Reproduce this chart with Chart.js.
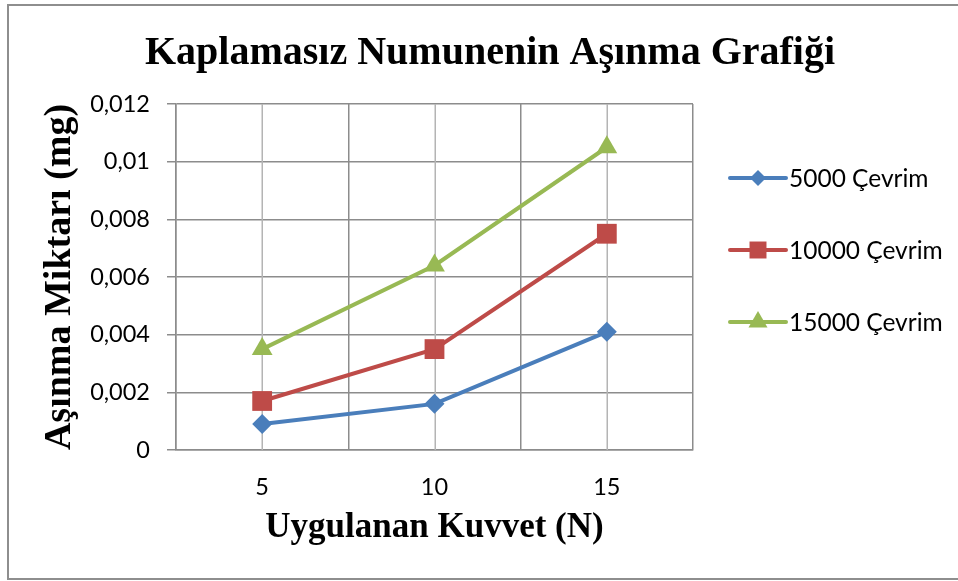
<!DOCTYPE html>
<html>
<head>
<meta charset="utf-8">
<title>Kaplamasız Numunenin Aşınma Grafiği</title>
<script src="https://cdn.jsdelivr.net/npm/chart.js@4.4.1/dist/chart.umd.min.js"></script>
<style>
  html, body { margin: 0; padding: 0; background: #fff; }
  canvas { display: block; }
</style>
</head>
<body>
<canvas id="chart" width="958" height="581"></canvas>
<script>
// ==================== DATA ====================
const categories = ['5', '10', '15'];
const seriesNames = ['5000 Çevrim', '10000 Çevrim', '15000 Çevrim'];
const cevrim5000 = [0.0009, 0.0016, 0.0041];
const cevrim10000 = [0.0017, 0.0035, 0.0075];
const cevrim15000 = [0.0035, 0.0064, 0.0105];
const yTicks = [0, 0.002, 0.004, 0.006, 0.008, 0.01, 0.012];

// ==================== STYLE ====================
const colors = ['#4A7EBB', '#BE4B48', '#98B954'];
const markers = ['rectRot', 'rect', 'triangle'];
const markerSize = [10, 14, 12];
const legendMarkerSize = [8, 12, 11];
const gridColor = '#8c8c8c';
const tickFont = { family: 'Lato', size: 23.5 };
const serifBold = size => ({ family: '"Liberation Serif", "Times New Roman", serif', size: size, weight: 'bold' });

const fmt = v => String(+Number(v).toFixed(4)).replace('.', ',');

// outer frame like the Excel chart border
const framePlugin = {
  id: 'frame',
  beforeDraw(chart) {
    const ctx = chart.ctx;
    ctx.save();
    ctx.fillStyle = '#fff';
    ctx.fillRect(0, 0, chart.width, chart.height);
    ctx.strokeStyle = '#8e8e8e';
    ctx.lineWidth = 2;
    ctx.beginPath();
    ctx.moveTo(chart.width, 5);
    ctx.lineTo(8, 5);
    ctx.lineTo(8, 579);
    ctx.lineTo(chart.width, 579);
    ctx.stroke();
    ctx.restore();
  }
};

// light gridlines through the category centres
const centerLines = {
  id: 'centerLines',
  beforeDatasetsDraw(chart) {
    const { ctx, chartArea, scales } = chart;
    ctx.save();
    ctx.strokeStyle = '#b4b4b4';
    ctx.lineWidth = 1.5;
    categories.forEach((c, i) => {
      const px = Math.round(scales.x.getPixelForValue(i)) + 0.25;
      ctx.beginPath();
      ctx.moveTo(px, chartArea.top);
      ctx.lineTo(px, chartArea.bottom);
      ctx.stroke();
    });
    ctx.restore();
  }
};

// legend on the right: line + marker + text
const sideLegend = {
  id: 'sideLegend',
  afterDraw(chart) {
    const ctx = chart.ctx;
    const x0 = 730, x1 = 786, yStart = 178, step = 72;
    ctx.save();
    chart.data.datasets.forEach((ds, i) => {
      const y = yStart + i * step;
      ctx.strokeStyle = ds.borderColor;
      ctx.lineWidth = 4;
      ctx.lineCap = 'round';
      ctx.beginPath();
      ctx.moveTo(x0, y);
      ctx.lineTo(x1, y);
      ctx.stroke();
      ctx.fillStyle = ds.borderColor;
      Chart.helpers.drawPoint(ctx, {
        pointStyle: ds.pointStyle, rotation: 0,
        radius: legendMarkerSize[i], borderWidth: 0
      }, (x0 + x1) / 2, y);
      ctx.fillStyle = '#000';
      ctx.font = `24.5px ${tickFont.family}`;
      ctx.textBaseline = 'middle';
      ctx.textAlign = 'left';
      ctx.fillText(ds.label, 789, y + 1);
    });
    ctx.restore();
  }
};

const seriesValues = [cevrim5000, cevrim10000, cevrim15000];

new Chart(document.getElementById('chart'), {
  type: 'line',
  data: {
    labels: categories,
    datasets: seriesNames.map((name, i) => ({
      label: name,
      data: seriesValues[i],
      borderColor: colors[i],
      backgroundColor: colors[i],
      borderWidth: 4,
      pointStyle: markers[i],
      pointRadius: markerSize[i],
      pointBackgroundColor: colors[i],
      pointBorderWidth: 0,
      tension: 0,
      fill: false
    }))
  },
  options: {
    responsive: false,
    animation: false,
    layout: { padding: { top: 5, left: 28, right: 6, bottom: 2 } },
    plugins: {
      legend: { display: false },
      tooltip: { enabled: false },
      title: {
        display: true,
        text: 'Kaplamasız Numunenin Aşınma Grafiği',
        color: '#000',
        font: serifBold(40),
        padding: { top: 25, bottom: 26 }
      }
    },
    scales: {
      x: {
        type: 'category',
        offset: true,
        grid: { offset: true, color: gridColor, lineWidth: 1.5, drawTicks: false },
        border: { color: gridColor, width: 1.5 },
        ticks: { color: '#000', font: tickFont, padding: 23 },
        title: {
          display: true,
          text: 'Uygulanan Kuvvet (N)',
          color: '#000',
          font: serifBold(35),
          padding: { top: 0, bottom: 30 }
        },
        afterFit(scale) { scale.height = 129; }
      },
      y: {
        min: 0,
        max: 0.012,
        afterBuildTicks(scale) { scale.ticks = yTicks.map(v => ({ value: v })); },
        grid: { color: gridColor, lineWidth: 1.5, tickLength: 9 },
        border: { color: gridColor, width: 1.5 },
        ticks: { color: '#000', font: tickFont, padding: 17, callback: v => fmt(v) },
        title: {
          display: true,
          text: 'Aşınma Miktarı (mg)',
          color: '#000',
          font: serifBold(38),
          padding: { top: 9, bottom: 0 }
        },
        afterFit(scale) { scale.width = 148; }
      },
      // empty right-hand box that keeps room for the legend
      legendSpace: {
        type: 'linear',
        position: 'right',
        display: true,
        grid: { display: false },
        border: { display: false },
        ticks: { display: false },
        afterFit(scale) { scale.width = 259; }
      }
    }
  },
  plugins: [framePlugin, centerLines, sideLegend]
});
</script>
</body>
</html>
